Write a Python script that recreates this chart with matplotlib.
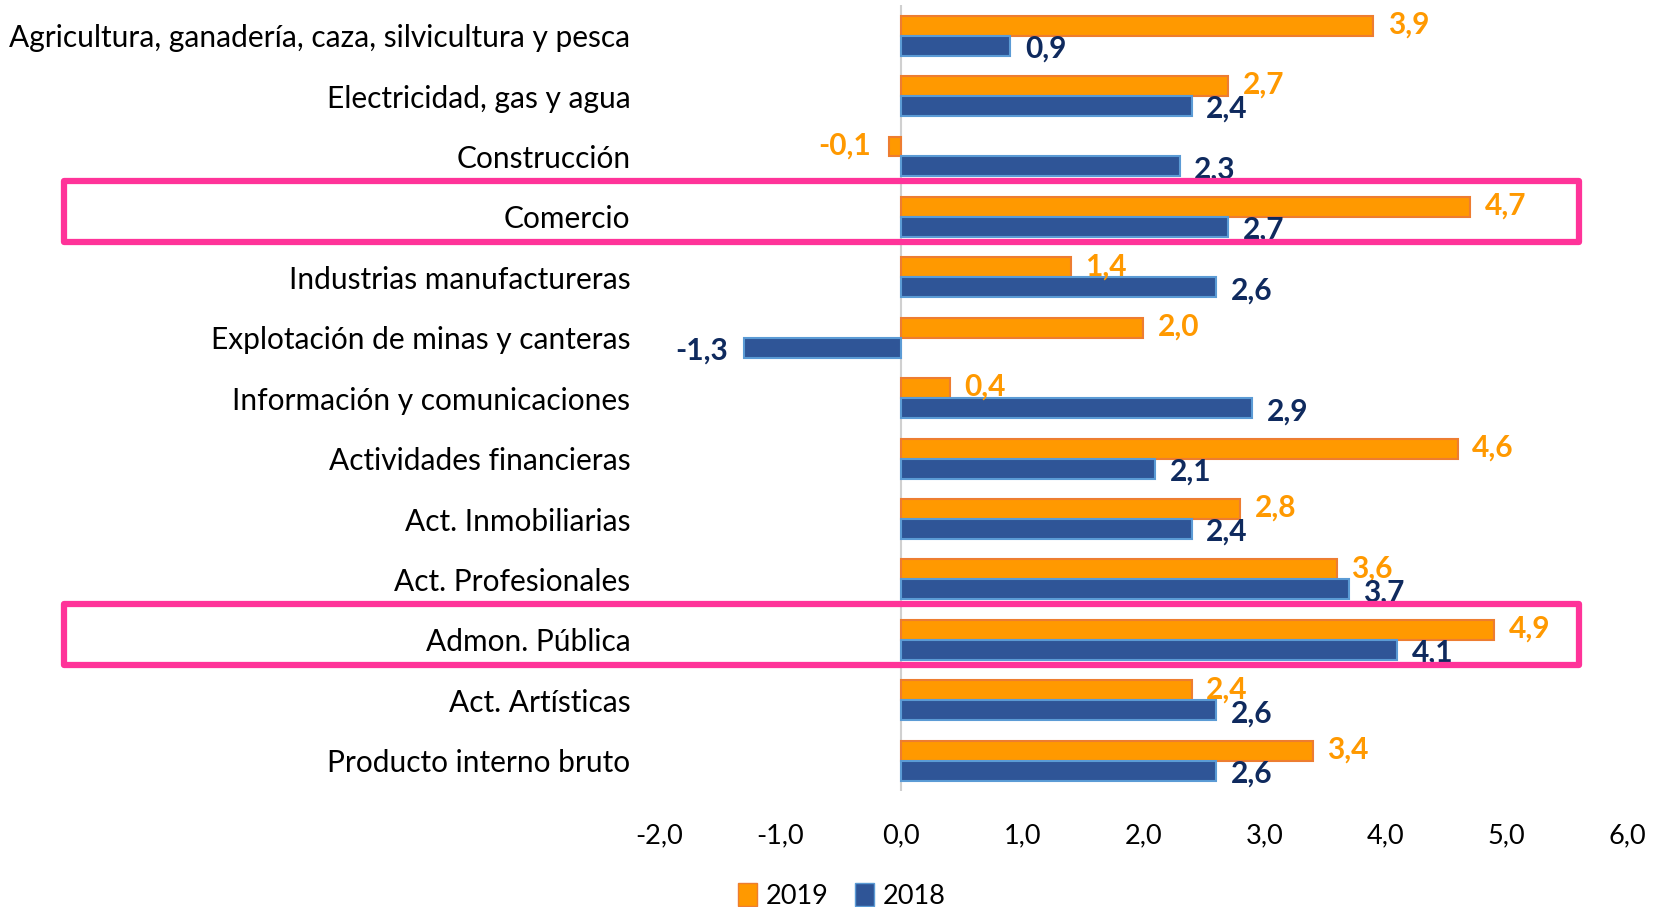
import numpy as np
import matplotlib
matplotlib.use("Agg")
import matplotlib.pyplot as plt
from matplotlib.patches import Rectangle, Patch

# Datos
sectores = [
    "Agricultura, ganadería, caza, silvicultura y pesca",
    "Electricidad, gas y agua",
    "Construcción",
    "Comercio",
    "Industrias manufactureras",
    "Explotación de minas y canteras",
    "Información y comunicaciones",
    "Actividades financieras",
    "Act. Inmobiliarias",
    "Act. Profesionales",
    "Admon. Pública",
    "Act. Artísticas",
    "Producto interno bruto",
]
v2019 = [3.9, 2.7, -0.1, 4.7, 1.4, 2.0, 0.4, 4.6, 2.8, 3.6, 4.9, 2.4, 3.4]
v2018 = [0.9, 2.4, 2.3, 2.7, 2.6, -1.3, 2.9, 2.1, 2.4, 3.7, 4.1, 2.6, 2.6]
xticks = [-2, -1, 0, 1, 2, 3, 4, 5, 6]
resaltados = ["Comercio", "Admon. Pública"]

NARANJA = "#FF9900"
NARANJA_BORDE = "#ED7D31"
AZUL = "#2F5597"
AZUL_BORDE = "#5B9BD5"
AZUL_TXT = "#0F2A5E"
ROSA = "#FF3399"

plt.rcParams["font.family"] = ["Lato", "DejaVu Sans"]

fig = plt.figure(figsize=(16.57, 9.07), dpi=100)
ax = fig.add_axes([0.398, 0.128, 0.584, 0.866])

y = np.arange(len(sectores))
h = 0.33
ax.barh(y - h / 2, v2019, height=h, color=NARANJA, edgecolor=NARANJA_BORDE, linewidth=1.5, label="2019")
ax.barh(y + h / 2, v2018, height=h, color=AZUL, edgecolor=AZUL_BORDE, linewidth=1.5, label="2018")

def fmt(v):
    return f"{v:.1f}".replace(".", ",")

for yi, v in zip(y - h / 2, v2019):
    off = 0.12 if v >= 0 else -0.15
    ax.text(v + off, yi - 0.02, fmt(v), color=NARANJA, fontsize=21.5, fontweight="bold",
            ha="left" if v >= 0 else "right", va="center")
for yi, v in zip(y + h / 2, v2018):
    off = 0.12 if v >= 0 else -0.13
    ax.text(v + off, yi + 0.05, fmt(v), color=AZUL_TXT, fontsize=21.5, fontweight="bold",
            ha="left" if v >= 0 else "right", va="center")

ax.set_xlim(-2, 6)
ax.set_ylim(len(sectores) - 0.5, -0.5)
ax.set_yticks(y)
ax.set_yticklabels(sectores, fontsize=21.5)
ax.set_xticks(xticks)
ax.set_xticklabels([fmt(t) for t in xticks], fontsize=19.5)
ax.tick_params(axis="both", length=0)
ax.tick_params(axis="y", pad=21)
ax.tick_params(axis="x", pad=23)
for s in ax.spines.values():
    s.set_visible(False)
ax.axvline(0, color="#D0D0D0", linewidth=1.5, zorder=0)

# Recuadros destacados
for nombre in resaltados:
    i = sectores.index(nombre)
    rect = Rectangle((-6.92, i - 0.59), 12.52, 1.0, fill=False, edgecolor=ROSA,
                     linewidth=4.5, joinstyle="round", clip_on=False, zorder=5)
    ax.add_patch(rect)

handles = [Patch(facecolor=NARANJA, edgecolor=NARANJA_BORDE, label="2019"),
           Patch(facecolor=AZUL, edgecolor=AZUL_BORDE, label="2018")]
fig.legend(handles=handles, loc="center", bbox_to_anchor=(0.508, 0.012), ncol=2,
           frameon=False, fontsize=19.5, handlelength=0.7, handleheight=0.9,
           handletextpad=0.3, columnspacing=1.0)

fig.savefig("out.png", dpi=100)
